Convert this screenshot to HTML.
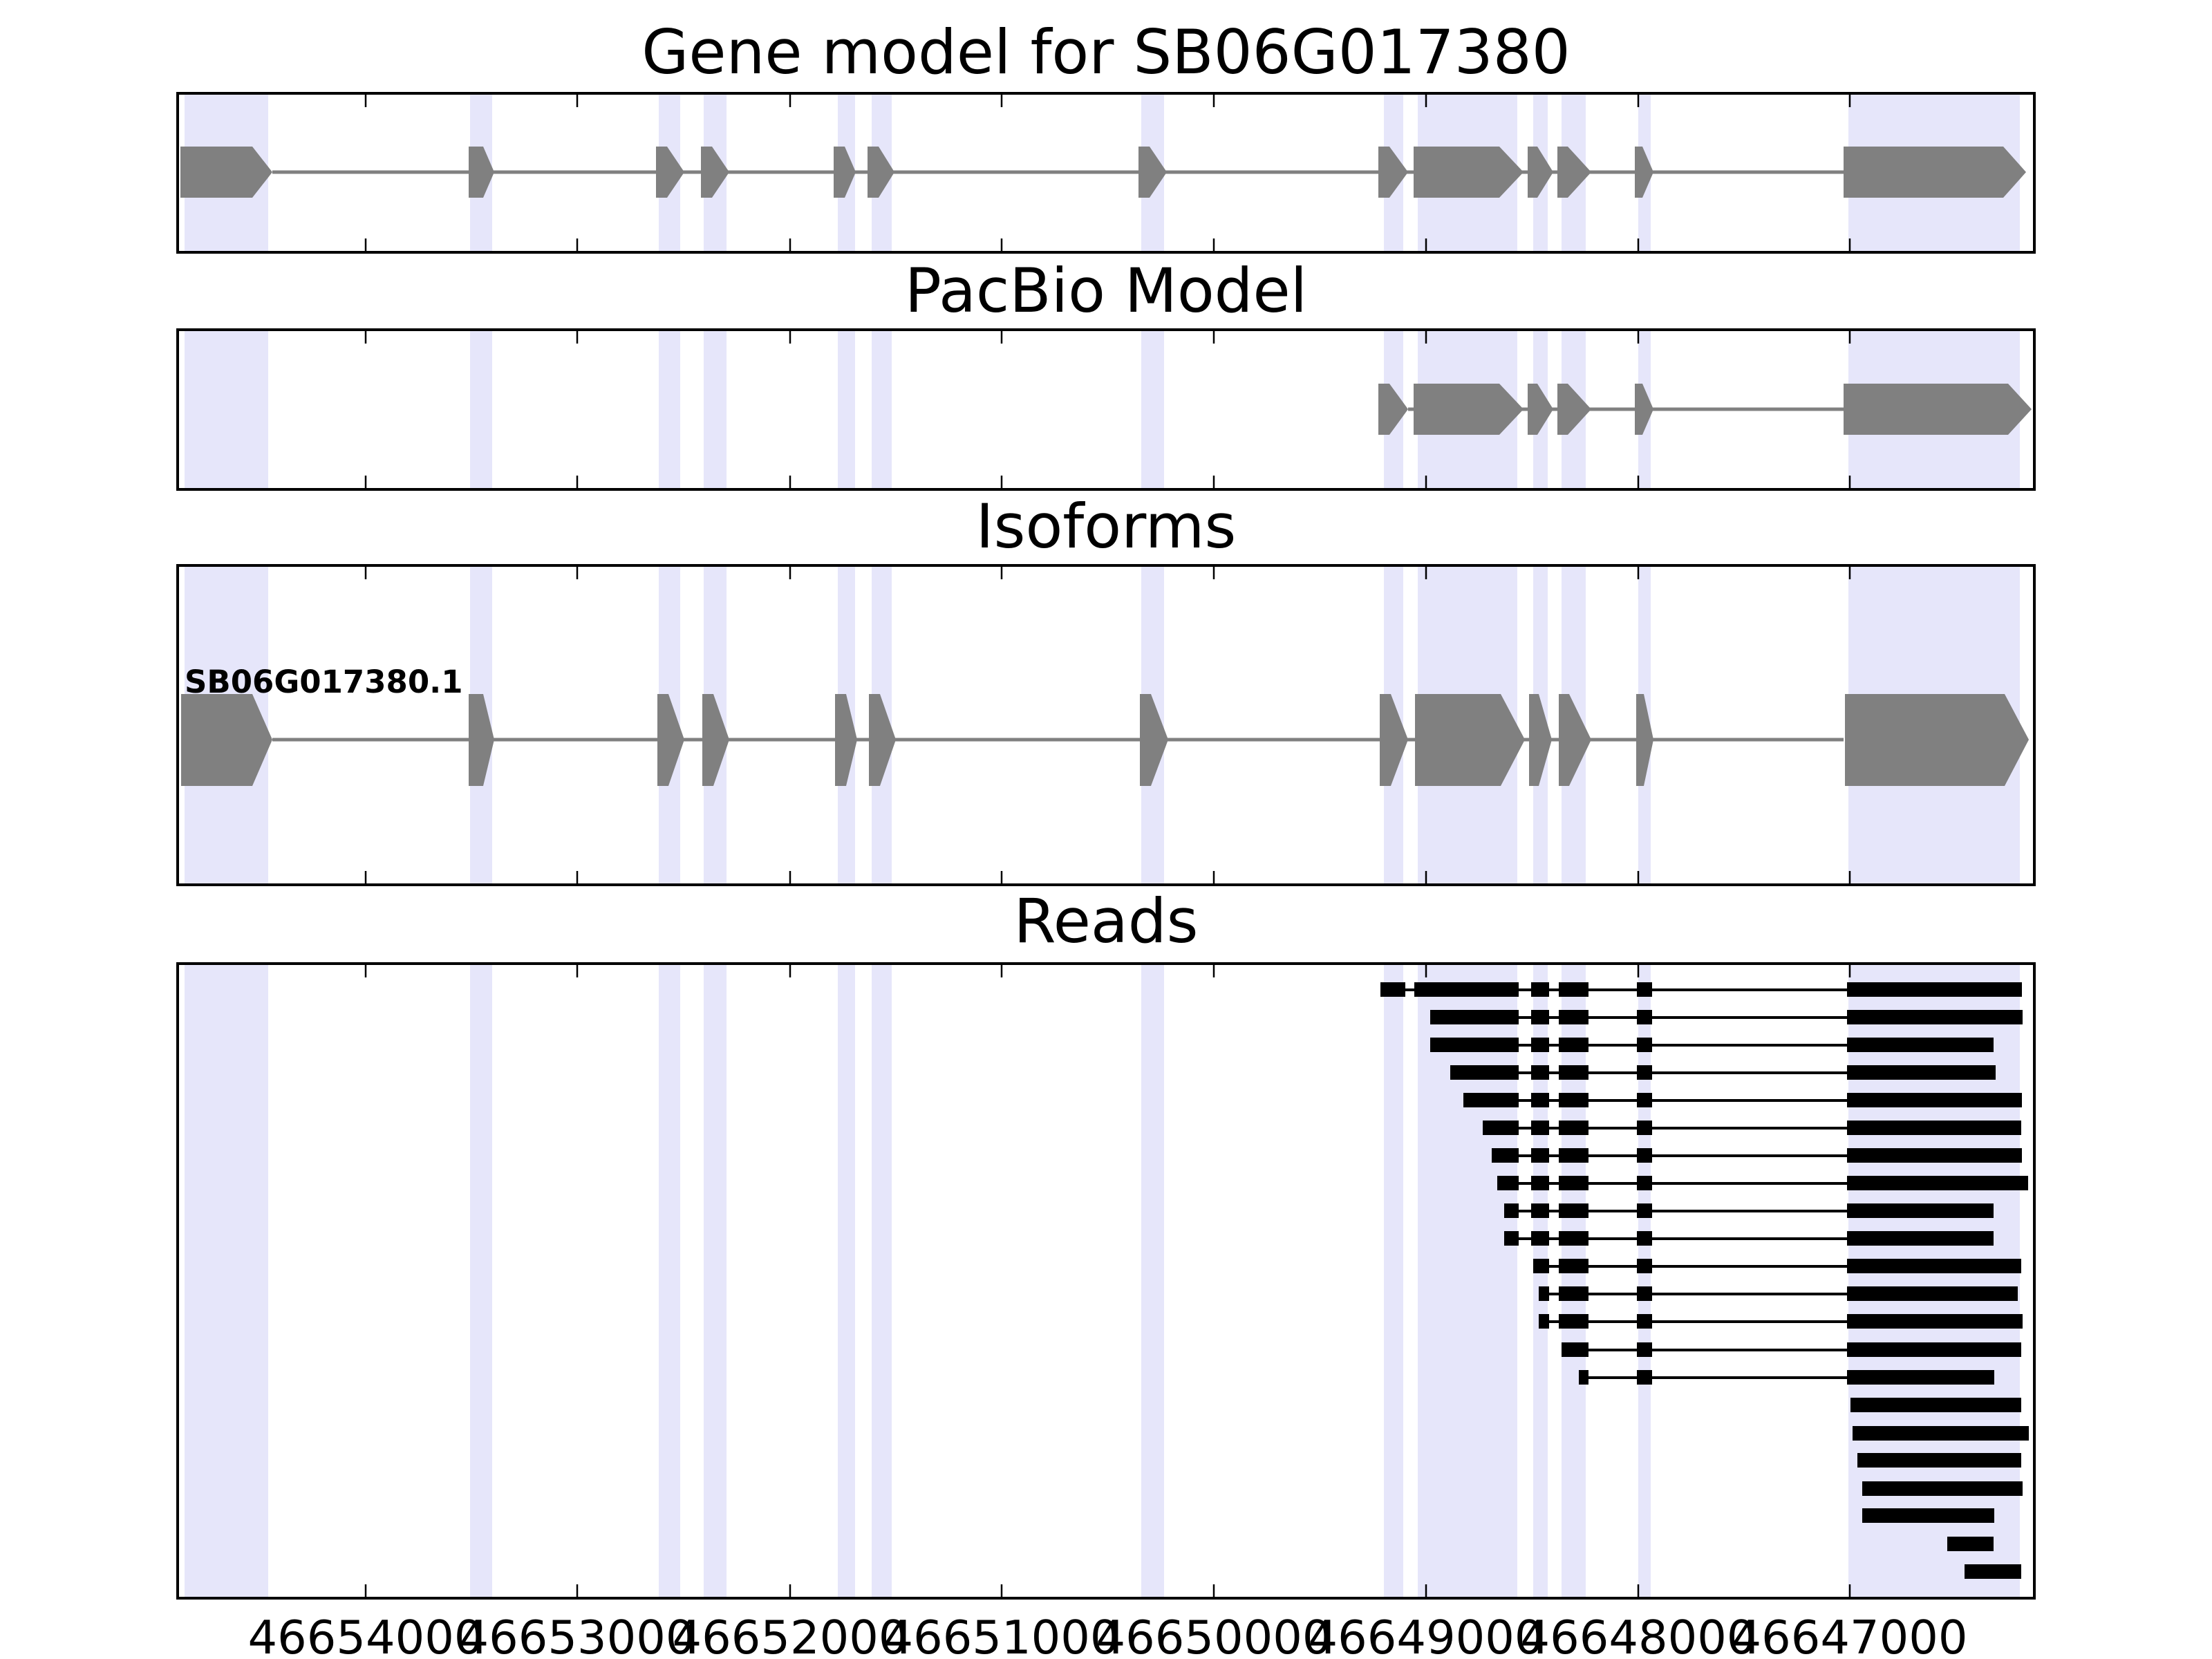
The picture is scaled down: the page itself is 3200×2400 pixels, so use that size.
<!DOCTYPE html>
<html><head><meta charset="utf-8"><style>
html,body{margin:0;padding:0;background:#fff;}
svg{display:block;}
text{font-family:"DejaVu Sans","Liberation Sans",sans-serif;}
</style></head><body>
<svg width="3200" height="2400" viewBox="0 0 3200 2400" xmlns="http://www.w3.org/2000/svg">
<defs>
<g id="bands" fill="#e6e6fa">
<rect x="267" y="0" width="121" height="1"/>
<rect x="680" y="0" width="32" height="1"/>
<rect x="953" y="0" width="31" height="1"/>
<rect x="1018" y="0" width="33" height="1"/>
<rect x="1212" y="0" width="25" height="1"/>
<rect x="1261" y="0" width="29" height="1"/>
<rect x="1651" y="0" width="33" height="1"/>
<rect x="2002" y="0" width="28" height="1"/>
<rect x="2051" y="0" width="144" height="1"/>
<rect x="2218" y="0" width="21" height="1"/>
<rect x="2259" y="0" width="35" height="1"/>
<rect x="2370" y="0" width="18" height="1"/>
<rect x="2674" y="0" width="248" height="1"/>
</g>
<g id="ticks" stroke="#000" stroke-width="2.5">
<line x1="529" y1="0" x2="529" y2="20"/>
<line x1="835" y1="0" x2="835" y2="20"/>
<line x1="1143" y1="0" x2="1143" y2="20"/>
<line x1="1449" y1="0" x2="1449" y2="20"/>
<line x1="1756" y1="0" x2="1756" y2="20"/>
<line x1="2063" y1="0" x2="2063" y2="20"/>
<line x1="2370" y1="0" x2="2370" y2="20"/>
<line x1="2676" y1="0" x2="2676" y2="20"/>
</g>
</defs>
<rect width="3200" height="2400" fill="#fff"/>

<!-- titles -->
<g font-size="88" text-anchor="middle" fill="#000">
<text x="1600" y="106">Gene model for SB06G017380</text>
<text x="1600" y="451">PacBio Model</text>
<text x="1600" y="792">Isoforms</text>
<text x="1600" y="1363">Reads</text>
</g>

<!-- bands -->
<use href="#bands" transform="translate(0,135) scale(1,230)"/>
<use href="#bands" transform="translate(0,477) scale(1,231)"/>
<use href="#bands" transform="translate(0,818) scale(1,462)"/>
<use href="#bands" transform="translate(0,1394) scale(1,918)"/>

<!-- Panel 1 gene -->
<line x1="394" y1="249" x2="2667" y2="249" stroke="#808080" stroke-width="5"/>
<g fill="#808080">
<polygon points="261,212 365,212 394,249 365,286 261,286"/>
<polygon points="678,212 699,212 715,249 699,286 678,286"/>
<polygon points="949,212 965,212 990,249 965,286 949,286"/>
<polygon points="1014,212 1030,212 1055,249 1030,286 1014,286"/>
<polygon points="1206,212 1222,212 1238,249 1222,286 1206,286"/>
<polygon points="1255,212 1271,212 1294,249 1271,286 1255,286"/>
<polygon points="1647,212 1663,212 1688,249 1663,286 1647,286"/>
<polygon points="1994,212 2010,212 2037,249 2010,286 1994,286"/>
<polygon points="2045,212 2169,212 2204,249 2169,286 2045,286"/>
<polygon points="2210,212 2224,212 2247,249 2224,286 2210,286"/>
<polygon points="2253,212 2268,212 2302,249 2268,286 2253,286"/>
<polygon points="2365,212 2376,212 2392,249 2376,286 2365,286"/>
<polygon points="2667,212 2898,212 2931,249 2898,286 2667,286"/>
</g>

<!-- Panel 2 pacbio -->
<line x1="2037" y1="592" x2="2667" y2="592" stroke="#808080" stroke-width="5"/>
<g fill="#808080">
<polygon points="1994,555 2010,555 2037,592 2010,629 1994,629"/>
<polygon points="2045,555 2169,555 2204,592 2169,629 2045,629"/>
<polygon points="2210,555 2224,555 2247,592 2224,629 2210,629"/>
<polygon points="2253,555 2268,555 2302,592 2268,629 2253,629"/>
<polygon points="2365,555 2376,555 2392,592 2376,629 2365,629"/>
<polygon points="2667,555 2905,555 2939,592 2905,629 2667,629"/>
</g>

<!-- Panel 3 isoforms -->
<line x1="394" y1="1070" x2="2667" y2="1070" stroke="#808080" stroke-width="5"/>
<g fill="#808080">
<polygon points="262,1004 365,1004 394,1070 365,1137 262,1137"/>
<polygon points="678,1004 699,1004 715,1070 699,1137 678,1137"/>
<polygon points="951,1004 967,1004 990,1070 967,1137 951,1137"/>
<polygon points="1016,1004 1032,1004 1055,1070 1032,1137 1016,1137"/>
<polygon points="1208,1004 1224,1004 1240,1070 1224,1137 1208,1137"/>
<polygon points="1257,1004 1273,1004 1296,1070 1273,1137 1257,1137"/>
<polygon points="1649,1004 1665,1004 1690,1070 1665,1137 1649,1137"/>
<polygon points="1996,1004 2012,1004 2037,1070 2012,1137 1996,1137"/>
<polygon points="2047,1004 2171,1004 2206,1070 2171,1137 2047,1137"/>
<polygon points="2212,1004 2226,1004 2245,1070 2226,1137 2212,1137"/>
<polygon points="2255,1004 2270,1004 2302,1070 2270,1137 2255,1137"/>
<polygon points="2367,1004 2378,1004 2392,1070 2378,1137 2367,1137"/>
<polygon points="2669,1004 2900,1004 2935,1070 2900,1137 2669,1137"/>
</g>
<text x="267" y="1002" font-size="45" font-weight="bold" fill="#000">SB06G017380.1</text>

<!-- Panel 4 reads -->
<g stroke="#000" stroke-width="4">
<line x1="1997" y1="1432" x2="2672" y2="1432"/>
<line x1="2069" y1="1472" x2="2672" y2="1472"/>
<line x1="2069" y1="1512" x2="2672" y2="1512"/>
<line x1="2098" y1="1552" x2="2672" y2="1552"/>
<line x1="2117" y1="1592" x2="2672" y2="1592"/>
<line x1="2145" y1="1632" x2="2672" y2="1632"/>
<line x1="2158" y1="1672" x2="2672" y2="1672"/>
<line x1="2166" y1="1712" x2="2672" y2="1712"/>
<line x1="2176" y1="1752" x2="2672" y2="1752"/>
<line x1="2176" y1="1792" x2="2672" y2="1792"/>
<line x1="2218" y1="1832" x2="2672" y2="1832"/>
<line x1="2226" y1="1872" x2="2672" y2="1872"/>
<line x1="2226" y1="1912" x2="2672" y2="1912"/>
<line x1="2259" y1="1953" x2="2672" y2="1953"/>
<line x1="2284" y1="1993" x2="2672" y2="1993"/>
</g>
<g fill="#000">
<!-- R0 -->
<rect x="1997" y="1421" width="36" height="21"/>
<rect x="2046" y="1421" width="151" height="21"/>
<!-- R1-R9 first blocks -->
<rect x="2069" y="1461" width="128" height="21"/>
<rect x="2069" y="1501" width="128" height="21"/>
<rect x="2098" y="1541" width="99" height="21"/>
<rect x="2117" y="1581" width="80" height="21"/>
<rect x="2145" y="1621" width="52" height="21"/>
<rect x="2158" y="1661" width="39" height="21"/>
<rect x="2166" y="1701" width="31" height="21"/>
<rect x="2176" y="1741" width="21" height="21"/>
<rect x="2176" y="1781" width="21" height="21"/>
<!-- common middle blocks rows 0-9 -->
<rect x="2215" y="1421" width="26" height="21"/><rect x="2255" y="1421" width="43" height="21"/><rect x="2368" y="1421" width="22" height="21"/><rect x="2672" y="1421" width="253" height="21"/>
<rect x="2215" y="1461" width="26" height="21"/><rect x="2255" y="1461" width="43" height="21"/><rect x="2368" y="1461" width="22" height="21"/><rect x="2672" y="1461" width="254" height="21"/>
<rect x="2215" y="1501" width="26" height="21"/><rect x="2255" y="1501" width="43" height="21"/><rect x="2368" y="1501" width="22" height="21"/><rect x="2672" y="1501" width="212" height="21"/>
<rect x="2215" y="1541" width="26" height="21"/><rect x="2255" y="1541" width="43" height="21"/><rect x="2368" y="1541" width="22" height="21"/><rect x="2672" y="1541" width="215" height="21"/>
<rect x="2215" y="1581" width="26" height="21"/><rect x="2255" y="1581" width="43" height="21"/><rect x="2368" y="1581" width="22" height="21"/><rect x="2672" y="1581" width="253" height="21"/>
<rect x="2215" y="1621" width="26" height="21"/><rect x="2255" y="1621" width="43" height="21"/><rect x="2368" y="1621" width="22" height="21"/><rect x="2672" y="1621" width="252" height="21"/>
<rect x="2215" y="1661" width="26" height="21"/><rect x="2255" y="1661" width="43" height="21"/><rect x="2368" y="1661" width="22" height="21"/><rect x="2672" y="1661" width="253" height="21"/>
<rect x="2215" y="1701" width="26" height="21"/><rect x="2255" y="1701" width="43" height="21"/><rect x="2368" y="1701" width="22" height="21"/><rect x="2672" y="1701" width="262" height="21"/>
<rect x="2215" y="1741" width="26" height="21"/><rect x="2255" y="1741" width="43" height="21"/><rect x="2368" y="1741" width="22" height="21"/><rect x="2672" y="1741" width="212" height="21"/>
<rect x="2215" y="1781" width="26" height="21"/><rect x="2255" y="1781" width="43" height="21"/><rect x="2368" y="1781" width="22" height="21"/><rect x="2672" y="1781" width="212" height="21"/>
<!-- R10 -->
<rect x="2218" y="1821" width="23" height="21"/><rect x="2255" y="1821" width="43" height="21"/><rect x="2368" y="1821" width="22" height="21"/><rect x="2672" y="1821" width="252" height="21"/>
<!-- R11 -->
<rect x="2226" y="1861" width="15" height="21"/><rect x="2255" y="1861" width="43" height="21"/><rect x="2368" y="1861" width="22" height="21"/><rect x="2672" y="1861" width="247" height="21"/>
<!-- R12 -->
<rect x="2226" y="1901" width="15" height="21"/><rect x="2255" y="1901" width="43" height="21"/><rect x="2368" y="1901" width="22" height="21"/><rect x="2672" y="1901" width="254" height="21"/>
<!-- R13 -->
<rect x="2259" y="1942" width="39" height="21"/><rect x="2368" y="1942" width="22" height="21"/><rect x="2672" y="1942" width="252" height="21"/>
<!-- R14 -->
<rect x="2284" y="1982" width="14" height="21"/><rect x="2368" y="1982" width="22" height="21"/><rect x="2672" y="1982" width="213" height="21"/>
<!-- R15-21 -->
<rect x="2677" y="2022" width="247" height="21"/>
<rect x="2680" y="2063" width="255" height="21"/>
<rect x="2687" y="2102" width="237" height="21"/>
<rect x="2694" y="2143" width="232" height="21"/>
<rect x="2694" y="2182" width="191" height="21"/>
<rect x="2817" y="2223" width="67" height="21"/>
<rect x="2842" y="2263" width="82" height="21"/>
</g>

<!-- ticks -->
<use href="#ticks" transform="translate(0,135)"/>
<use href="#ticks" transform="translate(0,345)"/>
<use href="#ticks" transform="translate(0,477)"/>
<use href="#ticks" transform="translate(0,688)"/>
<use href="#ticks" transform="translate(0,818)"/>
<use href="#ticks" transform="translate(0,1260)"/>
<use href="#ticks" transform="translate(0,1394)"/>
<use href="#ticks" transform="translate(0,2292)"/>

<!-- frames -->
<g fill="none" stroke="#000" stroke-width="4">
<rect x="257" y="135" width="2686" height="230"/>
<rect x="257" y="477" width="2686" height="231"/>
<rect x="257" y="818" width="2686" height="462"/>
<rect x="257" y="1394" width="2686" height="918"/>
</g>

<!-- tick labels -->
<g font-size="67" text-anchor="middle" fill="#000">
<text x="529" y="2392">46654000</text>
<text x="835" y="2392">46653000</text>
<text x="1143" y="2392">46652000</text>
<text x="1449" y="2392">46651000</text>
<text x="1756" y="2392">46650000</text>
<text x="2063" y="2392">46649000</text>
<text x="2370" y="2392">46648000</text>
<text x="2676" y="2392">46647000</text>
</g>
</svg>
</body></html>
